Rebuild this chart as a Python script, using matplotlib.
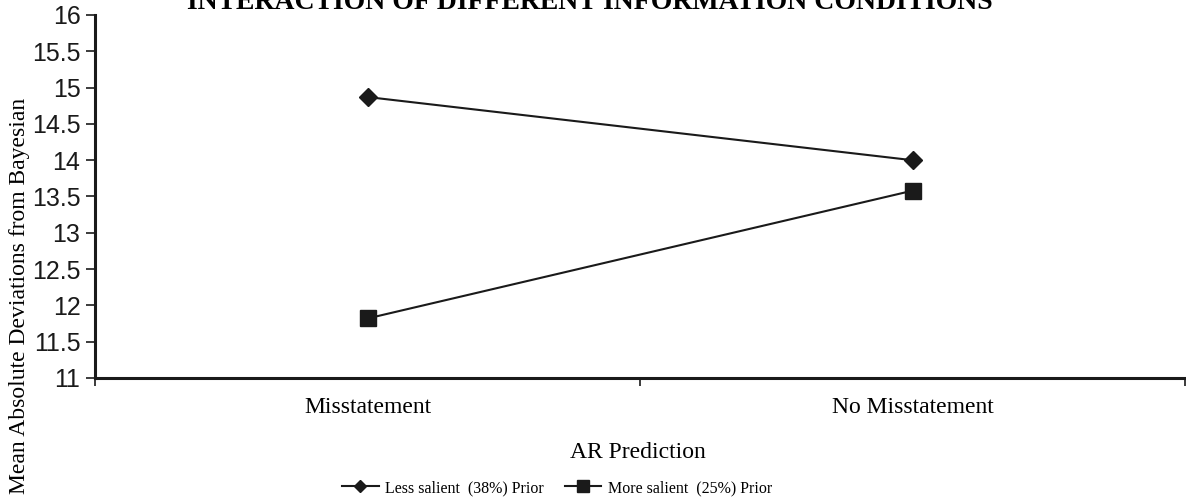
import matplotlib.pyplot as plt

categories = ['Misstatement', 'No Misstatement']
less_salient = [14.87, 14.0]
more_salient = [11.82, 13.58]
series_labels = ['Less salient  (38%) Prior', 'More salient  (25%) Prior']
y_ticks = [11, 11.5, 12, 12.5, 13, 13.5, 14, 14.5, 15, 15.5, 16]
y_tick_labels = ['11', '11.5', '12', '12.5', '13', '13.5', '14', '14.5', '15', '15.5', '16']

serif = 'Liberation Serif'
sans = 'Liberation Sans'

fig = plt.figure(figsize=(11.86, 5.04), dpi=100)
ax = fig.add_axes([95 / 1186, 1 - 378 / 504, (1185 - 95) / 1186, (378 - 15) / 504])

x = list(range(len(categories)))
ax.plot(x, less_salient, color='#1a1a1a', lw=1.5, marker='D', markersize=9,
        label=series_labels[0])
ax.plot(x, more_salient, color='#1a1a1a', lw=1.5, marker='s', markersize=11.5,
        label=series_labels[1])

ax.set_xlim(-0.5, len(categories) - 0.5)
ax.set_ylim(11, 16)

# y axis
ax.set_yticks(y_ticks)
ax.set_yticklabels(y_tick_labels, fontfamily=sans, fontsize=18)
ax.tick_params(axis='y', direction='out', length=6.5, width=1.2, pad=4, colors='#1a1a1a')

# x axis: labels at category centres, ticks at the boundaries
ax.set_xticks(x)
ax.set_xticklabels(categories, fontfamily=serif, fontsize=17)
ax.tick_params(axis='x', which='major', length=0, pad=14)
ax.set_xticks([i - 0.5 for i in range(len(categories) + 1)], minor=True)
ax.tick_params(axis='x', which='minor', direction='out', length=6, width=1.2, colors='#1a1a1a')

for side in ['top', 'right']:
    ax.spines[side].set_visible(False)
for side in ['left', 'bottom']:
    ax.spines[side].set_linewidth(2.2)
    ax.spines[side].set_color('#1a1a1a')

fig.text(638 / 1186, 1 - 452 / 504, 'AR Prediction', fontfamily=serif, fontsize=17,
         ha='center', va='center')
fig.text(20 / 1186, 1 - 296 / 504, 'Mean Absolute Deviations from Bayesian',
         fontfamily=serif, fontsize=17, rotation=90, ha='center', va='center')
fig.text(590 / 1186, 1 - 9 / 504, 'INTERACTION OF DIFFERENT INFORMATION CONDITIONS',
         fontfamily=serif, fontweight='bold', fontsize=20, ha='center', va='baseline')

fig.legend(loc='center', bbox_to_anchor=(557 / 1186, 1 - 488 / 504), ncol=2,
           frameon=False, prop={'family': serif, 'size': 11.5},
           handlelength=2.3, columnspacing=1.3, handletextpad=0.4, markerscale=0.7)

fig.savefig('out.png', dpi=100)
